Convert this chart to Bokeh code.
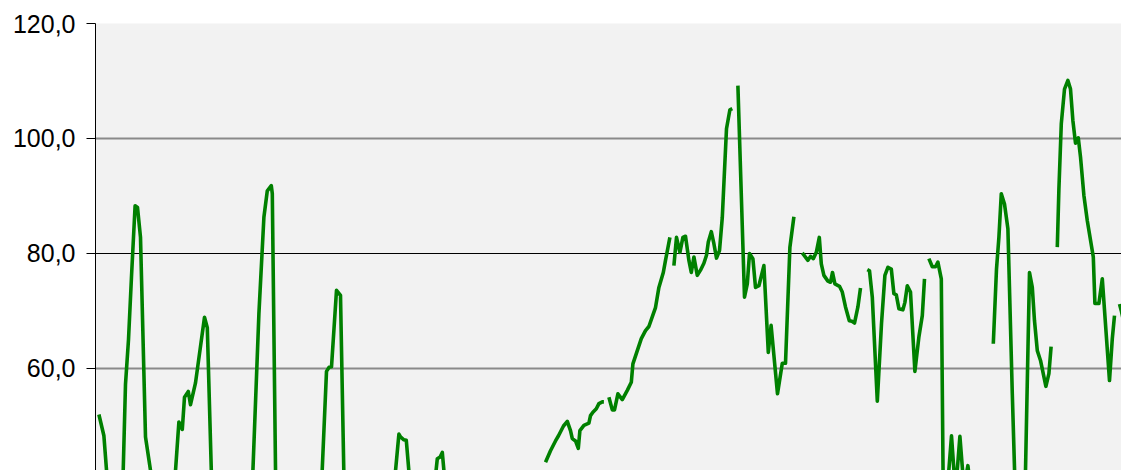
import math
from bokeh.plotting import figure
from bokeh.models import Range1d, FixedTicker, CustomJSTickFormatter, Grid, ColumnDataSource
from bokeh.embed import file_html
from bokeh.resources import INLINE

nan = float("nan")

# time index (period number) and index values; NaN marks missing observations
t = [
    1.7, 4.2, 7.0, 8.5, 11.5, 13.0, 15.0, 16.5, 18.0, 19.8, 21.0, 22.5, 25.0, 29.0, 31.5, 37.5, 39.0,
    41.7, 43.4, 44.5, 46.4, 47.5, 50.0, 54.5, 55.9, 58.8, 67.5, 77.8, 81.7, 84.2, 85.9, 87.9, 88.4,
    90.5, 102.5, 112.5, 115.5, 116.8, 118.0, 120.5, 122.5, 125.0, 137.5, 149.0, 151.7, 152.5, 154.2,
    155.4, 157.5, 162.5, 169.0, 170.9, 172.3, 173.4, 175.3, 200.0,
    225.0, 227.5, 230.0, 231.5, 234.0, 235.9, 237.5, 238.4, 240.0, 241.4, 242.2, 244.2, 246.7, 247.5,
    248.7, 250.4, 251.7, 253.4, 254.2, 255.5,
    256.7, 258.4, 259.5, 261.2, 263.4, 265.9, 267.9, 268.7, 270.9, 272.9, 275.0, 276.7, 278.9, 280.0,
    281.7, 283.9, 285.0, 287.2, 288.2,
    289.2, 290.5, 292.2, 293.7, 295.0, 296.7, 297.9, 299.2, 300.9, 302.5, 304.2, 305.5, 306.4, 307.9,
    309.2, 310.5, 312.0, 313.4, 314.5, 315.5, 317.2, 318.4, 319.5,
    321.2, 324.5, 325.9, 327.0, 328.7, 330.0, 331.7, 334.2, 336.4, 337.8, 341.0, 343.4, 345.0, 347.2,
    349.2, 351.0,
    353.4, 356.2, 357.5, 358.9, 360.4, 361.9, 362.9, 364.2, 366.2, 367.5, 368.5, 369.7, 372.0, 373.4,
    375.0, 376.9, 378.2, 379.5, 381.2, 382.5, 384.0,
    385.9, 387.0, 388.4, 390.9, 393.0, 394.7, 396.2, 397.9, 399.2, 400.4, 401.7, 403.7, 404.7, 405.9,
    407.5, 409.7, 411.7, 413.4, 414.5, 415.5,
    416.7, 418.4, 420.0, 421.2, 422.9, 424.3, 425.5, 428.0, 430.0, 432.2, 434.2, 436.2, 438.0, 440.0,
    448.9, 450.5, 451.7, 452.9, 454.5, 456.2, 458.4, 460.5, 464.0, 467.0, 468.4, 469.5, 470.9, 472.5,
    475.2, 476.7, 477.8, 479.0,
    480.9, 481.7, 482.9, 484.5, 486.2, 487.5, 488.7, 490.0, 491.4, 492.5, 494.2, 495.9, 498.9, 499.7,
    501.7, 503.4, 507.0, 508.4, 509.5, 511.0,
    512.0, 513.0, 514.5,
]
values = [
    52.0, 48.3, 35.5, 34.0, 34.0, 31.0, 57.3, 65.0, 76.0, 88.3, 88.0, 82.8, 48.1, 38.8, 36.0, 36.0, 37.2,
    50.7, 49.4, 55.0, 56.0, 53.7, 57.5, 68.9, 67.1, 31.1, 33.0, 34.0, 69.5, 86.3, 90.9, 91.8, 90.4,
    27.7, 32.0, 35.5, 59.5, 60.2, 60.3, 73.6, 72.7, 26.6, 33.0, 38.4, 48.6, 48.1, 47.6,
    47.5, 38.8, 37.0, 38.0, 44.3, 44.6, 45.4, 38.0, nan,
    43.7, 45.7, 47.4, 48.3, 50.0, 50.8, 49.2, 47.8, 47.4, 46.1, 49.2, 50.1, 50.5, 51.8,
    52.4, 53.0, 53.9, 54.2, 54.2, nan,
    55.0, 52.8, 52.8, 55.6, 54.6, 56.2, 57.6, 60.8, 63.1, 65.2, 66.6, 67.3, 69.5, 70.6,
    74.1, 76.7, 78.8, 82.8, nan,
    77.9, 82.8, 80.2, 82.8, 83.0, 78.8, 76.7, 79.4, 76.2, 77.1, 78.3, 79.7, 82.0, 83.8,
    81.7, 79.2, 80.5, 86.3, 94.4, 101.7, 105.0, 105.2, nan,
    109.2, 72.4, 74.7, 80.0, 79.1, 74.1, 74.4, 77.9, 62.8, 67.5, 55.6, 60.9, 60.9, 81.1,
    86.4, nan,
    80.1, 78.8, 79.5, 79.1, 80.2, 82.8, 78.2, 76.2, 75.2, 75.0, 76.7, 74.7, 74.3, 73.3,
    70.7, 68.3, 68.2, 67.9, 70.7, 74.0, nan,
    77.2, 77.0, 72.4, 54.3, 67.8, 76.2, 77.6, 77.3, 73.0, 72.8, 70.4, 70.2, 71.5, 74.4,
    73.3, 59.5, 65.5, 69.2, 75.6, nan,
    79.1, 77.7, 77.7, 78.5, 75.6, 22.0, 37.0, 48.3, 38.4, 48.2, 39.3, 43.1, 38.0, nan,
    64.3, 77.3, 82.8, 90.4, 88.6, 84.3, 55.6, 31.0, 24.9, 76.7, 74.1, 68.3, 63.1, 61.4,
    56.9, 59.1, 63.8, nan,
    81.1, 91.2, 102.6, 108.6, 110.1, 108.6, 103.1, 99.2, 100.1, 96.8, 90.1, 85.7, 79.4, 71.3,
    71.3, 75.6, 57.9, 65.2, 69.2, nan,
    71.2, 69.9, 67.5,
]

y_ticks = [40, 60, 80, 100, 120]
dark_grid = [40, 80, 120]
light_grid = [60, 100]

source = ColumnDataSource(data=dict(t=t, v=values))

p = figure(width=1121, height=470, output_backend="svg", toolbar_location=None,
           x_range=Range1d(0, 513), y_range=Range1d(42.26, 120),
           x_axis_location=None, min_border=0, min_border_left=95, min_border_top=23)
p.background_fill_color = "#f2f2f2"
p.border_fill_color = "white"
p.outline_line_color = None
p.xgrid.visible = False

yax = p.yaxis[0]
yax.ticker = FixedTicker(ticks=y_ticks)
yax.formatter = CustomJSTickFormatter(code="return tick.toFixed(1).replace('.', ',');")
yax.major_label_text_font = "Liberation Sans"
yax.major_label_text_font_size = "25px"
yax.major_label_text_color = "black"
yax.axis_line_color = "black"
yax.axis_line_width = 1
yax.major_tick_line_color = "black"
yax.major_tick_out = 9
yax.major_tick_in = 0
yax.minor_tick_line_color = None
yax.major_label_standoff = 11

p.ygrid.ticker = FixedTicker(ticks=dark_grid)
p.ygrid.grid_line_color = "black"
p.ygrid.grid_line_width = 1
g2 = Grid(dimension=1, ticker=FixedTicker(ticks=light_grid),
          grid_line_color="#8a8a8a", grid_line_width=2)
p.add_layout(g2)

p.line("t", "v", source=source, line_color="#008000", line_width=3.6, line_join="round")

open("out.html", "w").write(file_html(p, INLINE))
